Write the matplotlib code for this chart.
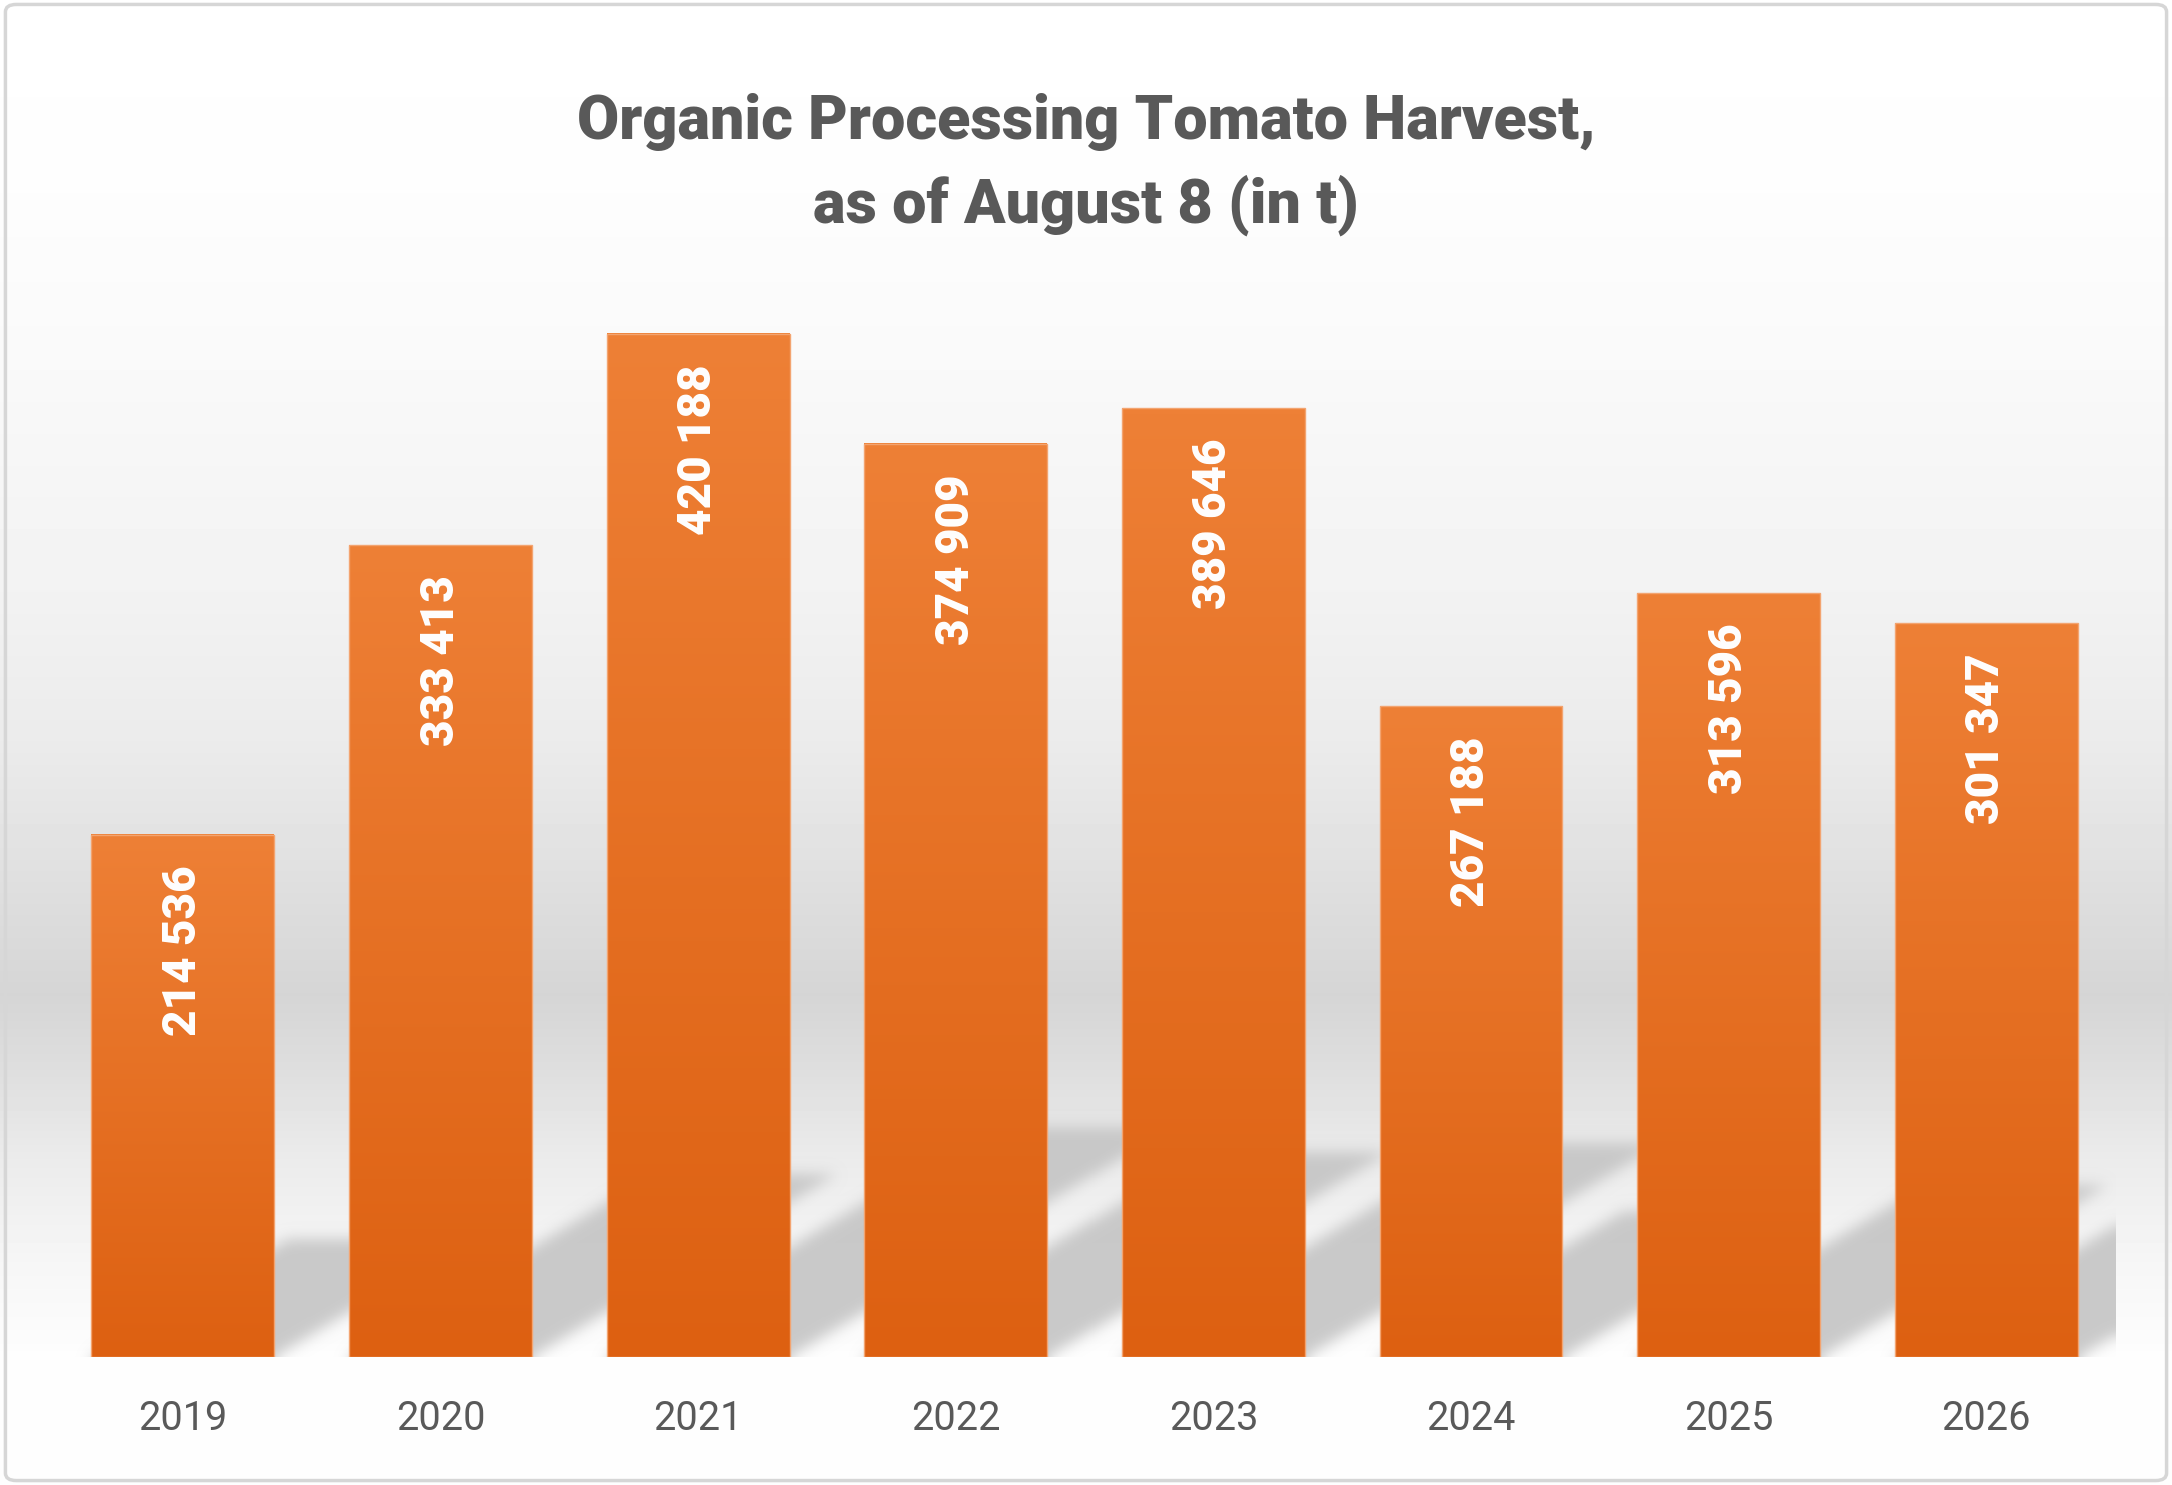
import numpy as np
import matplotlib
matplotlib.use('Agg')
import matplotlib.pyplot as plt
from matplotlib.colors import LinearSegmentedColormap
from matplotlib.patches import Rectangle, FancyBboxPatch

# ---- data -------------------------------------------------------------
years = ['2019', '2020', '2021', '2022', '2023', '2024', '2025', '2026']
harvest_t = [214536, 333413, 420188, 374909, 389646, 267188, 313596, 301347]
value_labels = ['214 536', '333 413', '420 188', '374 909',
                '389 646', '267 188', '313 596', '301 347']
title_lines = ['Organic Processing Tomato Harvest,', 'as of August 8 (in t)']

# ---- style ------------------------------------------------------------
TEXT_GREY = '#595959'
BAR_TOP = '#EE8036'
BAR_BOTTOM = '#DD6011'
SHADOW_GREY = 0.775
BAR_WIDTH = 0.71
FONT = ['Roboto', 'DejaVu Sans']

plt.rcParams['font.family'] = FONT

fig = plt.figure(figsize=(21.72, 14.85), dpi=100)
W, H = 2172, 1485

# background: vertical grey gradient over the whole chart area
bg = fig.add_axes([0, 0, 1, 1], zorder=0)
stops_y = [0.00, 0.13, 0.25, 0.40, 0.50, 0.58, 0.67, 0.72, 0.78, 0.85, 0.905, 0.915, 1.0]
stops_v = [255, 253, 249, 242, 235, 225, 213, 222, 235, 246, 252, 254, 254]
rows = np.linspace(0, 1, H)
grey = np.interp(rows, stops_y, stops_v) / 255.0
grad = np.repeat(grey[:, None], 2, axis=1)
bg.imshow(grad, cmap='gray', vmin=0, vmax=1, aspect='auto',
          extent=[0, 1, 0, 1], interpolation='nearest')
bg.set_xlim(0, 1)
bg.set_ylim(0, 1)
bg.axis('off')
bg.add_patch(FancyBboxPatch((0.0025, 0.003), 0.995, 0.994,
                            boxstyle='round,pad=0,rounding_size=0.005',
                            transform=bg.transAxes, facecolor='none',
                            edgecolor='#D6D6D6', linewidth=2.5, zorder=5))

# main plot
ax = fig.add_axes([0.0249, 0.0862, 0.9489, 0.738], zorder=1)
ax.set_facecolor('none')
x = np.arange(len(years))
ymax = 450000
ax.set_xlim(-0.5, len(years) - 0.5)
ax.set_ylim(0, ymax)

# ---- skewed, blurred perspective shadows --------------------------------
x0p, y0p, wp, hp = [int(round(v)) for v in ax.bbox.bounds]
mask = np.zeros((hp, wp))
yy = np.arange(hp)[:, None] + 0.5
xx = np.arange(wp)[None, :] + 0.5
slope = 0.6
for xi, h in zip(x, harvest_t):
    (lx, by), (rx, ty) = ax.transData.transform([(xi - BAR_WIDTH / 2, 0),
                                                 (xi + BAR_WIDTH / 2, h)])
    lx, rx, by, ty = lx - x0p, rx - x0p, by - y0p, ty - y0p
    rise = 0.225 * (ty - by)
    dy = yy - by
    inside = (dy >= 0) & (dy <= rise) & (xx >= lx + dy / slope) & (xx <= rx + dy / slope)
    mask = np.maximum(mask, inside.astype(float))


def blur(a, sigma):
    n = int(3 * sigma)
    t = np.arange(-n, n + 1)
    k = np.exp(-t ** 2 / (2 * sigma ** 2))
    k /= k.sum()
    for axis in (0, 1):
        pad = [(0, 0), (0, 0)]
        pad[axis] = (n, n)
        p = np.pad(a, pad, mode='edge')
        out = np.zeros_like(a)
        for i, kv in enumerate(k):
            if axis == 0:
                out += kv * p[i:i + a.shape[0], :]
            else:
                out += kv * p[:, i:i + a.shape[1]]
        a = out
    return a


mask = blur(mask, 7)
shadow = np.zeros((hp, wp, 4))
shadow[..., :3] = SHADOW_GREY
shadow[..., 3] = np.clip(mask, 0, 1) * 0.92
ax.imshow(shadow, extent=(0, 1, 0, 1), transform=ax.transAxes, origin='lower',
          aspect='auto', interpolation='none', zorder=2)

# ---- bars with vertical gradient ----------------------------------------
bar_cmap = LinearSegmentedColormap.from_list('bar', [BAR_BOTTOM, BAR_TOP])
bar_grad = np.linspace(0, 1, 256)[:, None]
for xi, h, lab in zip(x, harvest_t, value_labels):
    left = xi - BAR_WIDTH / 2
    ax.imshow(bar_grad, cmap=bar_cmap, aspect='auto', origin='lower',
              extent=[left, left + BAR_WIDTH, 0, h], zorder=3, interpolation='bilinear')
    ax.add_patch(Rectangle((left, 0), BAR_WIDTH, h, facecolor='none',
                           edgecolor='#F3A470', linewidth=1.0, zorder=4))
    ax.annotate(lab, xy=(xi, h), xytext=(0, -22), textcoords='offset points',
                rotation=90, ha='center', va='top', color='white',
                fontsize=33, fontweight='black', zorder=5)

ax.set_xlim(-0.5, len(years) - 0.5)
ax.set_ylim(0, ymax)
ax.set_xticks(x, years)
ax.tick_params(axis='x', length=0, pad=30, labelsize=28.5, labelcolor=TEXT_GREY)
ax.set_yticks([])
for sp in ax.spines.values():
    sp.set_visible(False)

# ---- title ------------------------------------------------------------
fig.text(0.5, 1 - 122 / H, title_lines[0], ha='center', va='center',
         fontsize=44, fontweight='black', color=TEXT_GREY)
fig.text(0.5, 1 - 205 / H, title_lines[1], ha='center', va='center',
         fontsize=44, fontweight='black', color=TEXT_GREY)

fig.savefig('out.png', dpi=100)
